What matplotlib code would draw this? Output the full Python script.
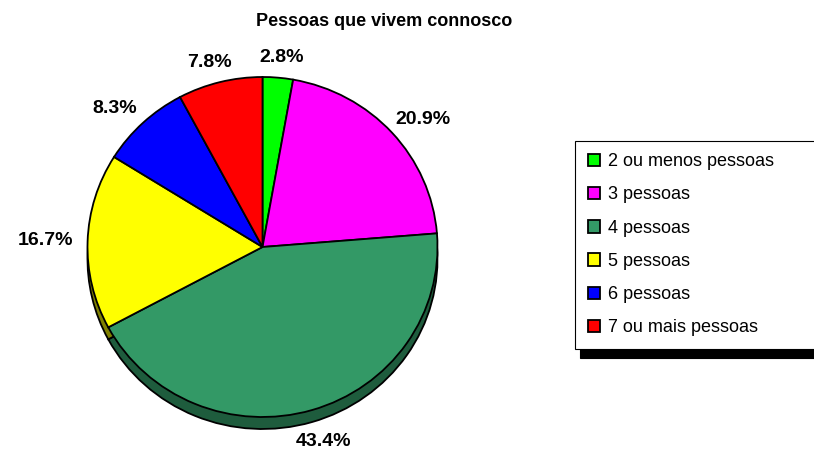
import numpy as np
import matplotlib
matplotlib.use("Agg")
import matplotlib.pyplot as plt

plt.rcParams['font.family'] = ['Liberation Sans', 'DejaVu Sans']

# ===== dados =====
categorias = ['2 ou menos pessoas', '3 pessoas', '4 pessoas',
              '5 pessoas', '6 pessoas', '7 ou mais pessoas']
percentagens = [2.8, 20.9, 43.4, 16.7, 8.3, 7.8]
cores = ['#00FF00', '#FF00FF', '#339966', '#FFFF00', '#0000FF', '#FF0000']
cores_sombra = ['#008000', '#800080', '#1E5C3D', '#808000', '#000080', '#800000']
rotulos = ['2.8%', '20.9%', '43.4%', '16.7%', '8.3%', '7.8%']

W, H = 814, 449
fig = plt.figure(figsize=(W / 100, H / 100), dpi=100)

# eixo do bolo (elipse ligeira como no Excel)
cx, cy = 262.5, 247
rx, ry = 175, 170
lim = 1.3
ax = fig.add_axes([(cx - lim * rx) / W, 1 - (cy + lim * ry) / H,
                   2 * lim * rx / W, 2 * lim * ry / H])

# "espessura" 3D por baixo
esp = 12 / ry
ax.pie(percentagens, colors=cores_sombra, startangle=90, counterclock=False,
       center=(0, -esp), radius=1, frame=True,
       wedgeprops=dict(edgecolor='black', linewidth=1.3))
fatias, _ = ax.pie(percentagens, colors=cores, startangle=90, counterclock=False,
                   radius=1, frame=True,
                   wedgeprops=dict(edgecolor='black', linewidth=1.3))
ax.set_xlim(-lim, lim)
ax.set_ylim(-lim, lim)
ax.set_aspect('auto')
ax.axis('off')

# rótulos de percentagem (fora do bolo, centrados)
gap_x, gap_y = 12 / rx, 12 / ry
meia_w, meia_h = 30 / rx, 8 / ry
for w, txt in zip(fatias, rotulos):
    ang = np.deg2rad((w.theta1 + w.theta2) / 2)
    c, s = np.cos(ang), np.sin(ang)
    x = (1 + gap_x) * c + meia_w * c
    y = (1 + gap_y) * s + meia_h * s - (esp if s < 0 else 0)
    ax.text(x, y, txt, ha='center', va='center', fontsize=14, fontweight='bold')

fig.text(384 / W, 1 - 22 / H, 'Pessoas que vivem connosco',
         ha='center', va='center', fontsize=13, fontweight='bold')

leg = fig.legend(fatias, categorias, loc='upper left',
                 bbox_to_anchor=(575 / W, 1 - 145 / H, 0.3, 0.01), mode='expand',
                 fontsize=13, frameon=True, fancybox=False, edgecolor='black',
                 framealpha=1, borderaxespad=0, handlelength=0.7, handleheight=0.7,
                 handletextpad=0.45, labelspacing=0.9, borderpad=0.7,
                 shadow={'ox': 3.6, 'oy': -6.5, 'color': 'black', 'alpha': 1})
leg.get_frame().set_linewidth(0.8)

fig.savefig('out.png', dpi=100)
